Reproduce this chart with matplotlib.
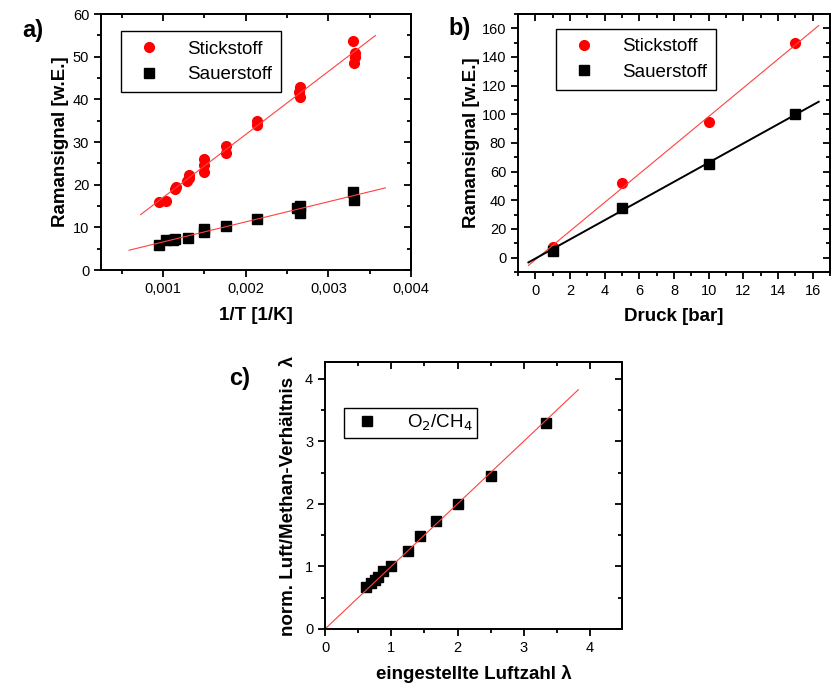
import numpy as np
import matplotlib
matplotlib.use("Agg")
import matplotlib.pyplot as plt
from matplotlib.ticker import MultipleLocator, FuncFormatter

plt.rcParams['font.family'] = ['Liberation Sans', 'DejaVu Sans']
plt.rcParams['axes.linewidth'] = 1.4

# a) Ramansignal vs 1/T
inv_t_n2 = [0.00095, 0.00104, 0.00114, 0.00116, 0.00129, 0.00131, 0.00131,
            0.00150, 0.00150, 0.00150, 0.00176, 0.00176, 0.00214, 0.00214,
            0.00264, 0.00266, 0.00266, 0.00330, 0.00332, 0.00332, 0.00331]
signal_n2 = [16.0, 16.2, 18.9, 19.5, 20.8, 21.6, 22.2,
             23.0, 24.7, 26.0, 27.4, 29.0, 33.9, 35.0,
             41.7, 40.6, 43.0, 53.7, 50.8, 50.0, 48.6]
inv_t_o2 = [0.00095, 0.00104, 0.00112, 0.00115, 0.00130, 0.00150, 0.00150,
            0.00176, 0.00214, 0.00262, 0.00266, 0.00266, 0.00330, 0.00331]
signal_o2 = [5.8, 7.1, 7.0, 7.3, 7.6, 8.9, 9.7,
             10.2, 12.0, 14.6, 13.4, 15.0, 18.2, 16.5]

# b) Ramansignal vs pressure
druck = [1, 5, 10, 15]
druck_n2 = [7.5, 52.0, 94.5, 150.0]
druck_o2 = [5.0, 35.0, 65.0, 100.0]

# c) measured vs set air ratio
lambda_set = [0.62, 0.70, 0.75, 0.80, 0.87, 1.00, 1.25, 1.43, 1.67, 2.00, 2.50, 3.33]
lambda_meas = [0.67, 0.74, 0.79, 0.83, 0.93, 1.01, 1.25, 1.48, 1.72, 2.00, 2.44, 3.29]

W, H = 831, 684
fig = plt.figure(figsize=(W / 100, H / 100), dpi=100)


def box(l, r, t, b):
    return [l / W, 1 - b / H, (r - l) / W, (b - t) / H]


def comma(v, pos):
    s = ('%g' % v) if abs(v) >= 1 or v == 0 else ('%.3f' % v)
    return s.replace('.', ',')


def style(ax, xmaj, xmin, ymaj, ymin):
    ax.xaxis.set_major_locator(MultipleLocator(xmaj))
    ax.xaxis.set_minor_locator(MultipleLocator(xmin))
    ax.yaxis.set_major_locator(MultipleLocator(ymaj))
    ax.yaxis.set_minor_locator(MultipleLocator(ymin))
    ax.tick_params(which='both', direction='out', top=False, right=False,
                   labelsize=10.5, width=1.3)
    ax.tick_params(which='major', length=5)
    ax.tick_params(which='minor', length=3)
    # Origin style: inward ticks on top and right
    top = ax.secondary_xaxis('top')
    top.xaxis.set_major_locator(MultipleLocator(xmaj))
    top.xaxis.set_minor_locator(MultipleLocator(xmin))
    top.tick_params(which='both', direction='in', labeltop=False, width=1.3)
    top.tick_params(which='major', length=5)
    top.tick_params(which='minor', length=3)
    right = ax.secondary_yaxis('right')
    right.yaxis.set_major_locator(MultipleLocator(ymaj))
    right.yaxis.set_minor_locator(MultipleLocator(ymin))
    right.tick_params(which='both', direction='in', labelright=False, width=1.3)
    right.tick_params(which='major', length=5)
    right.tick_params(which='minor', length=3)


lab = dict(fontsize=13.5, fontweight='bold')
leg = dict(fancybox=False, edgecolor='black', framealpha=1, borderpad=0.5,
           borderaxespad=0, handlelength=2.0, handletextpad=1.0,
           labelspacing=0.45, prop={'size': 13.5})

# ---- a) ----
ax = fig.add_axes(box(101, 411, 14, 270))
ax.plot(inv_t_n2, signal_n2, 'o', color='red', ms=7, mec='red', label='Stickstoff')
ax.plot(inv_t_o2, signal_o2, 's', color='black', ms=6.5, label='Sauerstoff')
k, d = np.polyfit(inv_t_n2, signal_n2, 1)
xs = np.array([0.00073, 0.00357])
ax.plot(xs, k * xs + d, color='#ff4040', lw=0.8)
k, d = np.polyfit(inv_t_o2, signal_o2, 1)
xs = np.array([0.00059, 0.00369])
ax.plot(xs, k * xs + d, color='#ff4040', lw=0.8)
ax.set_xlim(0.00025, 0.004)
ax.set_ylim(0, 60)
style(ax, 0.001, 0.0005, 10, 5)
ax.xaxis.set_major_formatter(FuncFormatter(comma))
ax.set_xlabel('1/T [1/K]', labelpad=8, **lab)
ax.set_ylabel('Ramansignal [w.E.]', labelpad=2.5, **lab)
ax.legend(loc='upper left', bbox_to_anchor=((121 - 101) / 310, 1 - (31 - 14) / 256), **leg)

# ---- b) ----
ax = fig.add_axes(box(518, 830, 14, 272))
ax.plot(druck, druck_n2, 'o', color='red', ms=7, mec='red', label='Stickstoff')
ax.plot(druck, druck_o2, 's', color='black', ms=6.5, label='Sauerstoff')
xs = np.array([-0.4, 16.35])
k, d = np.polyfit(druck, druck_n2, 1)
ax.plot(xs, k * xs + d, color='#ff4040', lw=0.8)
k, d = np.polyfit(druck, druck_o2, 1)
ax.plot(xs, k * xs + d, color='black', lw=1.4)
ax.set_xlim(-1, 17)
ax.set_ylim(-10, 170)
style(ax, 2, 1, 20, 10)
ax.set_xlabel('Druck [bar]', labelpad=7, **lab)
ax.set_ylabel('Ramansignal [w.E.]', labelpad=1, **lab)
ax.legend(loc='upper left', bbox_to_anchor=((556 - 518) / 312, 1 - (29 - 14) / 258), **leg)

# ---- c) ----
ax = fig.add_axes(box(325, 622, 362, 629))
ax.plot(lambda_set, lambda_meas, 's', color='black', ms=7.5, label='O$_2$/CH$_4$')
xs = np.array(lambda_set)
k = np.sum(xs * np.array(lambda_meas)) / np.sum(xs * xs)
xs = np.array([0.0, 3.82])
ax.plot(xs, k * xs, color='#ff4040', lw=0.8)
ax.set_xlim(0, 4.48)
ax.set_ylim(0, 4.27)
style(ax, 1, 0.5, 1, 0.5)
ax.set_xlabel('eingestellte Luftzahl λ', labelpad=7.5, **lab)
ax.set_ylabel('norm. Luft/Methan-Verhältnis  λ', labelpad=6, **lab)
ax.legend(loc='upper left', bbox_to_anchor=((344 - 325) / 297, 1 - (408 - 362) / 267),
          **{**leg, 'borderpad': 0.25, 'handletextpad': 1.1})

# panel letters
for t, x, y in [('a)', 33, 30), ('b)', 460, 28), ('c)', 240, 378)]:
    fig.text(x / W, 1 - y / H, t, fontsize=17, fontweight='bold',
             ha='center', va='center')

fig.savefig('out.png', dpi=100)
